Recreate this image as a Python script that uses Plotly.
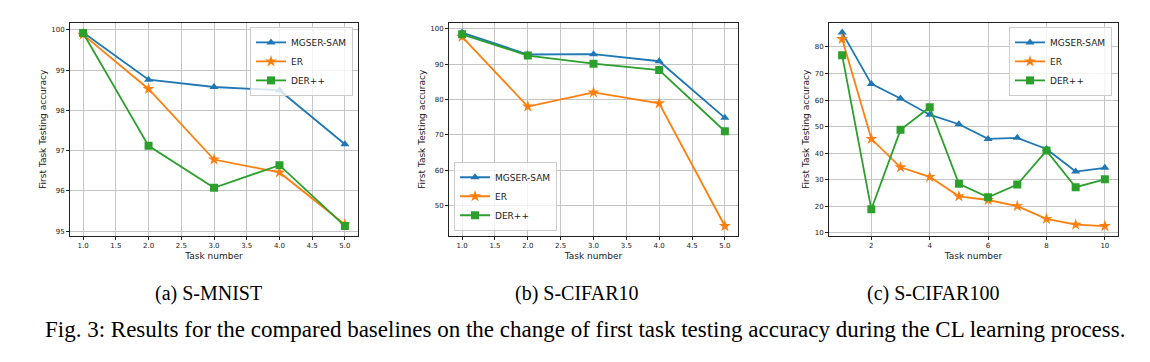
import plotly.graph_objects as go

# The page body has an 8px default margin; the figure is sized to fit the window.
OFF = 8
W, H = 1150 - OFF, 362 - OFF

series_names = ["MGSER-SAM", "ER", "DER++"]
colors = ["#1f77b4", "#ff7f0e", "#2ca02c"]
symbols = ["triangle-up", "star", "square"]
marker_sizes = [8, 9, 8]

# (a) S-MNIST
tasks_a = [1, 2, 3, 4, 5]
mnist_mgser = [99.93, 98.76, 98.58, 98.50, 97.16]
mnist_er = [99.88, 98.53, 96.78, 96.46, 95.17]
mnist_der = [99.92, 97.12, 96.08, 96.64, 95.13]

# (b) S-CIFAR10
tasks_b = [1, 2, 3, 4, 5]
c10_mgser = [98.9, 92.7, 92.8, 90.8, 74.8]
c10_er = [97.7, 78.0, 82.0, 78.9, 44.2]
c10_der = [98.4, 92.4, 90.1, 88.3, 71.0]

# (c) S-CIFAR100
tasks_c = [1, 2, 3, 4, 5, 6, 7, 8, 9, 10]
c100_mgser = [85.4, 66.1, 60.6, 54.5, 50.9, 45.4, 45.8, 41.6, 33.1, 34.5]
c100_er = [83.0, 45.4, 34.7, 31.1, 23.8, 22.4, 20.1, 15.3, 13.1, 12.6]
c100_der = [76.9, 18.9, 48.8, 57.3, 28.5, 23.4, 28.2, 41.0, 27.2, 30.2]

subtitles = ["(a) S-MNIST", "(b) S-CIFAR10", "(c) S-CIFAR100"]
caption = ("Fig. 3: Results for the compared baselines on the change of first task "
           "testing accuracy during the CL learning process.")
x_title = "Task number"
y_title = "First Task Testing accuracy"

panels = [
    (tasks_a, [mnist_mgser, mnist_er, mnist_der]),
    (tasks_b, [c10_mgser, c10_er, c10_der]),
    (tasks_c, [c100_mgser, c100_er, c100_der]),
]

# pixel boxes of axes in window coordinates (left, right, top, bottom)
boxes = [(70, 358, 23, 237), (449, 738, 23, 237), (829, 1118, 23, 237)]


def px(x):
    return (x - OFF) / W


def py(y):
    return 1 - (y - OFF) / H


fig = go.Figure()

for p, (xs, ys_list) in enumerate(panels):
    ax = "" if p == 0 else str(p + 1)
    leg = "legend" if p == 0 else "legend" + str(p + 1)
    for i, ys in enumerate(ys_list):
        fig.add_trace(go.Scatter(
            x=xs, y=ys, mode="lines+markers", name=series_names[i],
            line=dict(color=colors[i], width=1.8),
            marker=dict(symbol=symbols[i], size=marker_sizes[i], color=colors[i],
                        line=dict(width=0)),
            xaxis="x" + ax, yaxis="y" + ax, legend=leg,
        ))


def xrange_for(xs):
    lo, hi = min(xs), max(xs)
    m = (hi - lo) * 0.05
    return [lo - m, hi + m]


def yrange_for(ys_list):
    vals = [v for ys in ys_list for v in ys]
    lo, hi = min(vals), max(vals)
    m = (hi - lo) * 0.05
    return [lo - m, hi + m]


axis_common = dict(
    showline=True, linecolor="#222222", linewidth=1, mirror=True,
    showgrid=True, gridcolor="#c4c4c4", gridwidth=1,
    ticks="outside", ticklen=3, tickcolor="#222222",
    tickfont=dict(family="DejaVu Sans", size=7, color="#222222"),
    zeroline=False,
)

xtick_specs = [
    dict(tick0=1, dtick=0.5, tickformat=".1f"),
    dict(tick0=1, dtick=0.5, tickformat=".1f"),
    dict(tick0=2, dtick=2),
]
ytick_specs = [
    dict(tick0=95, dtick=1),
    dict(tick0=50, dtick=10),
    dict(tick0=10, dtick=10),
]

layout = dict(
    width=W, height=H,
    margin=dict(l=0, r=0, t=0, b=0),
    paper_bgcolor="white", plot_bgcolor="white",
    showlegend=True,
)

for p, (xs, ys_list) in enumerate(panels):
    l, r, t, b = boxes[p]
    ax = "" if p == 0 else str(p + 1)
    layout["xaxis" + ax] = dict(
        axis_common, domain=[px(l), px(r)], range=xrange_for(xs),
        anchor="y" + ax,
        title=dict(text=x_title, font=dict(family="DejaVu Sans", size=9, color="#222222"), standoff=3),
        **xtick_specs[p],
    )
    layout["yaxis" + ax] = dict(
        axis_common, domain=[py(b), py(t)], range=yrange_for(ys_list),
        anchor="x" + ax,
        title=dict(text=y_title, font=dict(family="DejaVu Sans", size=9, color="#222222"), standoff=3),
        **ytick_specs[p],
    )

legend_common = dict(
    font=dict(family="DejaVu Sans", size=9, color="#222222"),
    bgcolor="rgba(255,255,255,0.8)", bordercolor="#cccccc", borderwidth=1,
    tracegroupgap=0, itemwidth=30,
)
layout["legend"] = dict(legend_common, x=px(353), xanchor="right", y=py(27), yanchor="top")
layout["legend2"] = dict(legend_common, x=px(454), xanchor="left", y=py(232), yanchor="bottom")
layout["legend3"] = dict(legend_common, x=px(1112), xanchor="right", y=py(27), yanchor="top")

fig.update_layout(**layout)

sub_x = [208, 577, 933]
for p, s in enumerate(subtitles):
    fig.add_annotation(text=s, x=px(sub_x[p]), y=py(295), xref="paper", yref="paper",
                       xanchor="center", yanchor="middle", showarrow=False,
                       font=dict(family="Liberation Serif", size=20, color="black"))
fig.add_annotation(text=caption, x=px(585), y=py(331), xref="paper", yref="paper",
                   xanchor="center", yanchor="middle", showarrow=False,
                   font=dict(family="Liberation Serif", size=23, color="black"))

fig.write_html("out.html")
